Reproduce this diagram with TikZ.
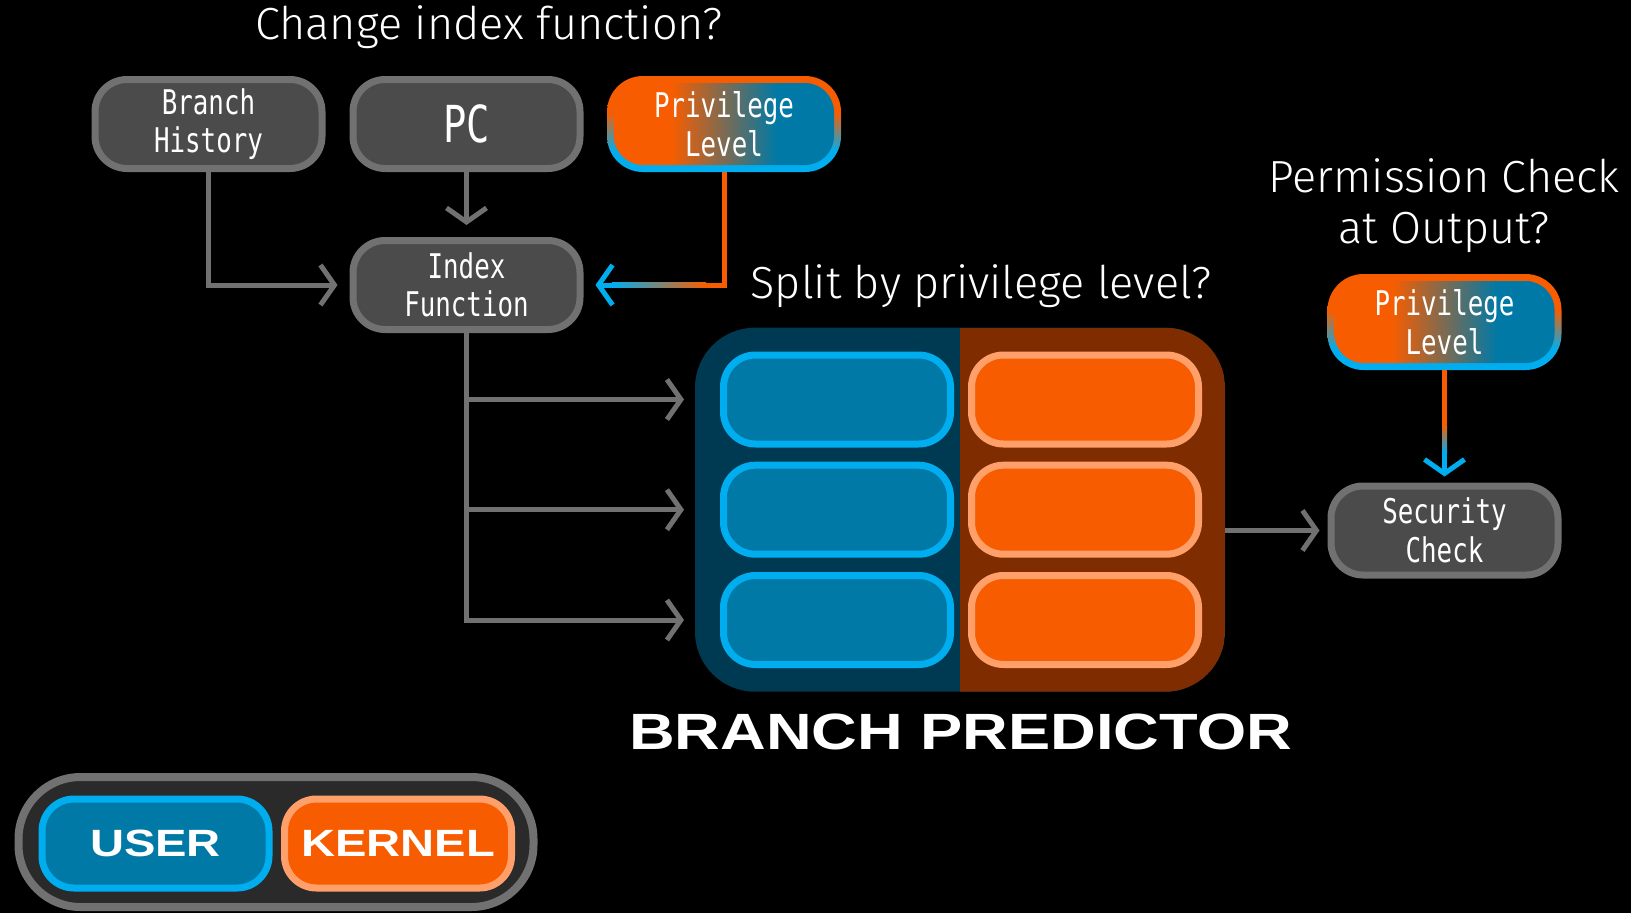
\documentclass[tikz,border=0pt]{standalone}
\usepackage{fontspec}
\usetikzlibrary{arrows.meta,calc}
\newfontfamily\titlef{Fira Sans Light}
\newfontfamily\monof{DejaVu Sans Mono}[FakeStretch=0.76]
\newfontfamily\widef{Liberation Sans}[FakeStretch=1.24]
\definecolor{graybrd}{HTML}{717171}
\definecolor{grayfill}{HTML}{4B4B4B}
\definecolor{bluefill}{HTML}{0079A6}
\definecolor{bluebrd}{HTML}{00AEEF}
\definecolor{orfill}{HTML}{F75D00}
\definecolor{orbrd}{HTML}{FFA06B}
\definecolor{darkblue}{HTML}{003A52}
\definecolor{darkor}{HTML}{7E2C00}
\definecolor{legfill}{HTML}{2A2A2A}
\pgfdeclarehorizontalshading{privfill}{100bp}{color(0bp)=(orfill); color(38bp)=(orfill); color(62bp)=(bluefill); color(100bp)=(bluefill)}
\pgfdeclareverticalshading{privbrd}{100bp}{color(0bp)=(bluebrd); color(36bp)=(bluebrd); color(56bp)=(orfill); color(100bp)=(orfill)}
\tikzset{
  graybox/.style={draw=graybrd, fill=grayfill, line width=7pt, rounded corners=32pt,
    minimum width=227pt, minimum height=89pt, text=white, align=center,
    font=\monof\fontsize{34}{38.5}\selectfont},
  privouter/.style={shade, shading=privbrd, rounded corners=36pt,
    minimum width=234pt, minimum height=96pt, inner sep=0pt},
  privinner/.style={shade, shading=privfill, rounded corners=29pt,
    minimum width=220pt, minimum height=82pt, text=white, align=center,
    font=\monof\fontsize{34}{38.5}\selectfont},
  bluecell/.style={draw=bluebrd, fill=bluefill, line width=7pt, rounded corners=32pt,
    minimum width=227pt, minimum height=89pt},
  orcell/.style={draw=orbrd, fill=orfill, line width=7pt, rounded corners=32pt,
    minimum width=227pt, minimum height=89pt},
  qtext/.style={text=white, font=\titlef\fontsize{45}{51}\selectfont, inner sep=0pt},
  wtext/.style={text=white, font=\widef\bfseries\fontsize{51}{60}\selectfont, inner sep=0pt},
  tipc/.style={-{Straight Barb[length=14pt,width=40pt]}},
  garrow/.style={draw=graybrd, line width=5pt, tipc},
  barrow/.style={draw=bluebrd, line width=5pt, tipc},
  orline/.style={draw=orfill, line width=5pt},
}
\begin{document}
\begin{tikzpicture}[x=1pt, y=-1pt]
\path[use as bounding box, fill=black] (0,0) rectangle (1631,913);

% titles
\node[qtext, anchor=base] (t1) at (489,39) {Change index function?};
\node[qtext, anchor=base] (t2) at (981,298) {Split by privilege level?};
\node[qtext, anchor=base] (t3a) at (1444,192) {Permission Check};
\node[qtext, anchor=base] (t3b) at (1444,243) {at Output?};

% top nodes
\node[graybox] (bh) at (208.5,124) {Branch\\History};
\node[graybox, font=\monof\fontsize{51}{56}\selectfont] (pc) at (466.5,124) {PC};
\node[privouter] (priv) at (724,124) {};
\node[privinner] (privt) at (priv) {Privilege\\Level};
\node[graybox] (idx) at (466.5,285) {Index\\Function};

% branch predictor
\node[minimum width=530pt, minimum height=364pt, rounded corners=60pt, fill=darkblue,
  path picture={\fill[darkor, sharp corners] (path picture bounding box.north) rectangle (path picture bounding box.south east);}]
  (pred) at (960,509.7) {};
\node[bluecell] (c1) at (837,399.5) {};
\node[bluecell] (c2) at (837,509.7) {};
\node[bluecell] (c3) at (837,620) {};
\node[orcell] (k1) at (1085,399.5) {};
\node[orcell] (k2) at (1085,509.7) {};
\node[orcell] (k3) at (1085,620) {};
\node[wtext] (bp) at (960.6,732) {BRANCH PREDICTOR};

% right side
\node[privouter] (priv2) at (1444.5,322) {};
\node[privinner] (priv2t) at (priv2) {Privilege\\Level};
\node[graybox] (sec) at (1444.5,530.5) {Security\\Check};

% legend
\node[draw=graybrd, fill=legfill, line width=8pt, rounded corners=62pt,
  minimum width=515pt, minimum height=130pt] (leg) at (276,842) {};
\node[draw=bluebrd, fill=bluefill, line width=7pt, rounded corners=32pt,
  minimum width=227pt, minimum height=89pt, text=white,
  font=\widef\bfseries\fontsize{38}{44}\selectfont] (user) at (155.5,843.5) {USER};
\node[draw=orbrd, fill=orfill, line width=7pt, rounded corners=32pt,
  minimum width=227pt, minimum height=89pt, text=white,
  font=\widef\bfseries\fontsize{38}{44}\selectfont] (kern) at (398,843.5) {KERNEL};

% connectors
\draw[garrow] (bh.south) |- ($(idx.west)+(-12,0)$);
\draw[garrow] (pc.south) -- ($(idx.north)+(0,-12)$);
\draw[barrow] (priv.south) |- ($(idx.east)+(12,0)$);
\draw[orline] (priv.south) |- (704,285);
\shade[left color=bluebrd, right color=orfill] (612,282.5) rectangle (706,287.5);

\draw[garrow] (idx.south) |- ($(c3.west)+(-36,0)$);
\draw[garrow] (idx.south |- c1.west) -- ($(c1.west)+(-36,0)$);
\draw[garrow] (idx.south |- c2.west) -- ($(c2.west)+(-36,0)$);

\draw[garrow] (pred.east |- sec.west) -- ($(sec.west)+(-8,0)$);

\draw[barrow] (priv2.south) -- ($(sec.north)+(0,-6)$);
\draw[orline] (priv2.south) -- (1444.5,427);
\shade[top color=orfill, bottom color=bluebrd] (1442,425) rectangle (1447,452);
\end{tikzpicture}
\end{document}
